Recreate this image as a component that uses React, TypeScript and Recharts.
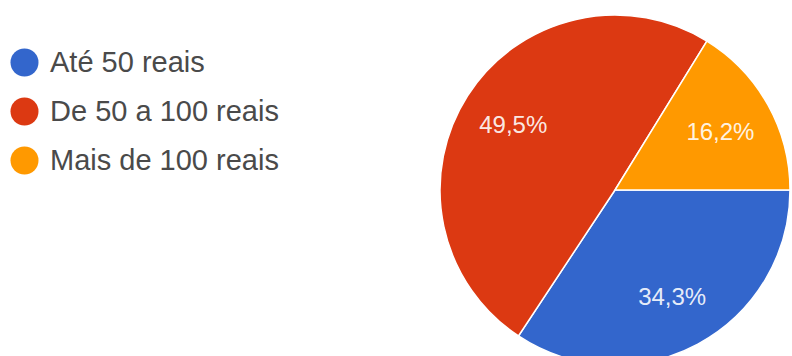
import React from "react";
import { PieChart, Pie, Cell } from "recharts";

const categories = ["Até 50 reais", "De 50 a 100 reais", "Mais de 100 reais"];
const percentages = [34.3, 49.5, 16.2];
const colors = ["#3366cc", "#dc3912", "#ff9900"];

const data = categories.map((name, i) => ({ name, value: percentages[i] }));

const RADIAN = Math.PI / 180;

const renderLabel = (props: any) => {
  const { cx, cy, midAngle, outerRadius, index } = props;
  const r = outerRadius * 0.69;
  const x = cx + r * Math.cos(-midAngle * RADIAN);
  const y = cy + r * Math.sin(-midAngle * RADIAN);
  return (
    <text
      x={x}
      y={y}
      fill="#ffffff"
      fillOpacity={0.9}
      textAnchor="middle"
      dominantBaseline="central"
      fontFamily="'Liberation Sans', Arial, sans-serif"
      fontSize={24}
    >
      {percentages[index].toFixed(1).replace(".", ",") + "%"}
    </text>
  );
};

export default function App() {
  return (
    <div style={{ position: "absolute", left: 0, top: 0, width: 792, height: 356, background: "#fff" }}>
      <PieChart width={792} height={356} margin={{ top: 0, right: 0, bottom: 0, left: 0 }}>
        <Pie
          data={data}
          dataKey="value"
          nameKey="name"
          cx={615}
          cy={190}
          outerRadius={175}
          startAngle={0}
          endAngle={-360}
          stroke="#ffffff"
          strokeWidth={1.5}
          label={renderLabel}
          labelLine={false}
          isAnimationActive={false}
        >
          {data.map((d, i) => (
            <Cell key={d.name} fill={colors[i]} />
          ))}
        </Pie>
      </PieChart>
      <div style={{ position: "absolute", left: 10, top: 38 }}>
        {categories.map((name, i) => (
          <div key={name} style={{ display: "flex", alignItems: "center", height: 49 }}>
            <svg width={29} height={29} style={{ marginRight: 11 }}>
              <circle cx={14.5} cy={14.5} r={14} fill={colors[i]} />
            </svg>
            <span
              style={{
                fontFamily: "'Liberation Sans', Arial, sans-serif",
                fontSize: 29,
                color: "#4a4a4a",
                whiteSpace: "nowrap",
              }}
            >
              {name}
            </span>
          </div>
        ))}
      </div>
    </div>
  );
}
